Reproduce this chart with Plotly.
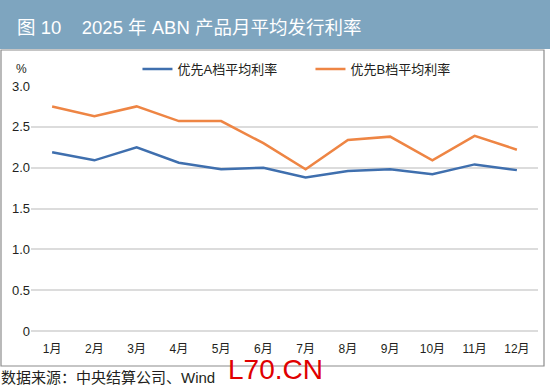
import plotly.graph_objects as go

months = ["1月", "2月", "3月", "4月", "5月", "6月", "7月", "8月", "9月", "10月", "11月", "12月"]
rate_a = [2.19, 2.09, 2.25, 2.06, 1.98, 2.00, 1.88, 1.96, 1.98, 1.92, 2.04, 1.97]
rate_b = [2.75, 2.63, 2.75, 2.57, 2.57, 2.30, 1.98, 2.34, 2.38, 2.09, 2.39, 2.22]
name_a = "优先A档平均利率"
name_b = "优先B档平均利率"
y_ticks = [0, 0.5, 1.0, 1.5, 2.0, 2.5, 3.0]
y_tick_text = ["0", "0.5", "1.0", "1.5", "2.0", "2.5", "3.0"]

FONT = "Liberation Sans, Noto Sans CJK SC, sans-serif"

fig = go.Figure()
fig.add_trace(go.Scatter(x=months, y=rate_a, name=name_a, mode="lines",
                         line=dict(color="#3F6FAE", width=2.5)))
fig.add_trace(go.Scatter(x=months, y=rate_b, name=name_b, mode="lines",
                         line=dict(color="#EE8544", width=2.5)))

fig.update_layout(
    width=550, height=387,
    margin=dict(l=31, r=12, t=86, b=56, autoexpand=False),
    paper_bgcolor="white", plot_bgcolor="white",
    font=dict(family=FONT, size=13, color="#231F20"),
    showlegend=True,
    legend=dict(orientation="h", x=0.21, xanchor="left", y=1.069, yanchor="middle",
                entrywidth=128, entrywidthmode="pixels",
                font=dict(size=13, color="#231F20"), bgcolor="rgba(0,0,0,0)"),
    xaxis=dict(range=[-0.5, 11.5], showgrid=False, showline=False, zeroline=False,
               ticks="outside", ticklen=7, tickcolor="rgba(0,0,0,0)",
               tickfont=dict(size=12, color="#231F20"), automargin=False),
    yaxis=dict(range=[0, 3.0], tickvals=y_ticks, ticktext=y_tick_text,
               showgrid=True, gridcolor="#DCDCDC", gridwidth=2,
               zeroline=True, zerolinecolor="#DCDCDC", zerolinewidth=2,
               showline=False, ticks="", tickfont=dict(size=13, color="#231F20"),
               automargin=False),
    shapes=[
        dict(type="rect", xref="paper", yref="paper",
             x0=-30/507, x1=513/507, y0=-35/245, y1=1+36/245,
             line=dict(color="#8C8C8C", width=1.2), layer="below"),
        dict(type="rect", xref="paper", yref="paper",
             x0=-31/507, x1=519/507, y0=1+37/245, y1=1+86/245,
             fillcolor="#7EA5BF", line=dict(width=0), layer="below"),
    ],
    annotations=[
        dict(text="图 10    2025 年 ABN 产品月平均发行利率", xref="paper", yref="paper",
             x=-16/507, y=1+59/245, xanchor="left", yanchor="middle", showarrow=False,
             font=dict(size=18.5, color="white", family=FONT)),
        dict(text="%", xref="paper", yref="paper", x=-17/507, y=1+17/245,
             xanchor="left", yanchor="middle", showarrow=False,
             font=dict(size=12, color="#231F20")),
        dict(text="数据来源：中央结算公司、Wind", xref="paper", yref="paper",
             x=-32/507, y=-46/245, xanchor="left", yanchor="middle", showarrow=False,
             font=dict(size=15, color="#231F20")),
        dict(text="L70.CN", xref="paper", yref="paper",
             x=195/507, y=-38/245, xanchor="left", yanchor="middle", showarrow=False,
             font=dict(size=28, color="#E00000")),
    ],
)

fig.write_html("out.html", config={"displayModeBar": False},
               post_script="document.body.style.margin='0px';document.body.style.overflow='hidden';")
